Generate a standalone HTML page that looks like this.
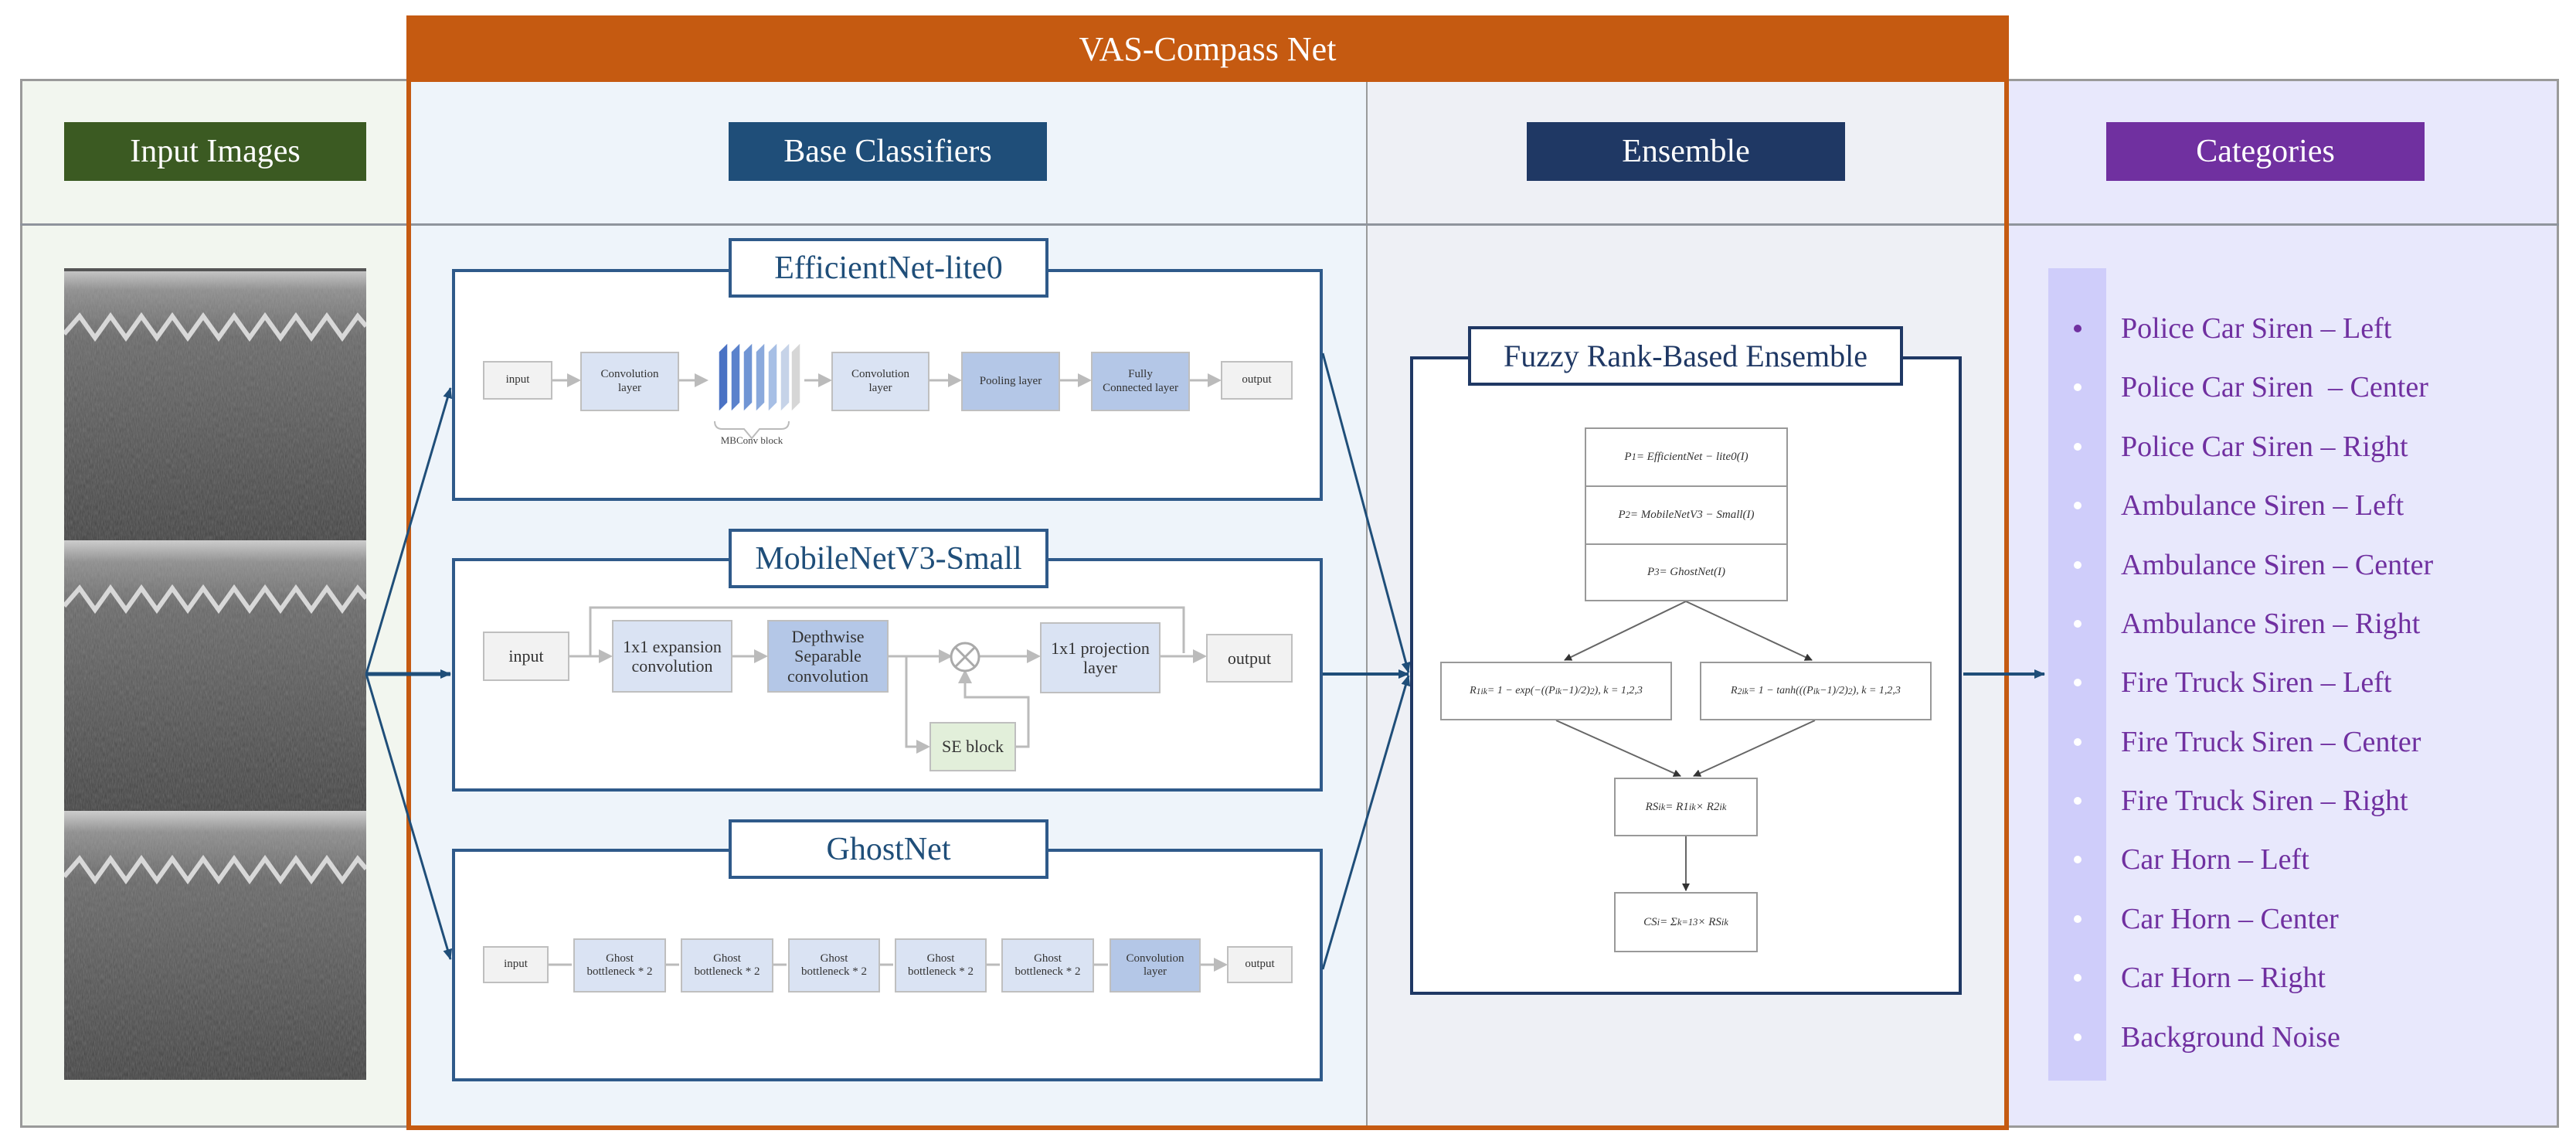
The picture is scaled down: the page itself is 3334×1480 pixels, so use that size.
<!DOCTYPE html>
<html><head><meta charset="utf-8"><style>
*{margin:0;padding:0;box-sizing:border-box}
body{width:3334px;height:1480px;background:#fff;position:relative;overflow:hidden;font-family:"Liberation Serif",serif}
.a{position:absolute}
.lbl{position:absolute;color:#fff;font-size:42px;display:flex;align-items:center;justify-content:center}
.tb{position:absolute;background:#fff;border:4px solid #2f5a8a;color:#1f4e79;font-size:42px;display:flex;align-items:center;justify-content:center}
.ob{position:absolute;border:4px solid #2f5a8a;background:#fff}
.n{position:absolute;border:2px solid #bfbfbf;display:flex;align-items:center;justify-content:center;text-align:center;color:#333;line-height:1.15}
.f{position:absolute;border:2px solid #999;background:#fff;display:flex;align-items:center;justify-content:center;font-style:italic;font-size:15px;color:#333}
.it{position:absolute;left:2745px;font-size:38px;color:#7030a0;white-space:nowrap;line-height:1}
.dot{position:absolute;left:2684px;width:10px;height:10px;border-radius:50%;background:#fff}
</style></head><body>
<div class="a" style="left:26px;top:102px;width:504px;height:1357px;background:#f2f6ef;border:3px solid #9a9a9a"></div>
<div class="a" style="left:2596px;top:102px;width:716px;height:1357px;background:#e8e8fc;border:3px solid #9a9a9a"></div>
<div class="a" style="left:528px;top:104px;width:1240px;height:1355px;background:#eef4fa"></div>
<div class="a" style="left:1768px;top:104px;width:828px;height:1355px;background:#eef0f5;border-left:2px solid #9a9a9a"></div>
<div class="a" style="left:26px;top:289px;width:3286px;height:3px;background:#8f949c"></div>
<div class="a" style="left:526px;top:20px;width:2074px;height:1442px;border:6px solid #c55a11"></div>
<div class="a" style="left:526px;top:20px;width:2074px;height:86px;background:#c55a11;color:#fff;font-size:44px;display:flex;align-items:center;justify-content:center">VAS-Compass Net</div>
<div class="lbl" style="left:83px;top:158px;width:391px;height:76px;background:#3b5a22">Input Images</div>
<div class="lbl" style="left:943px;top:158px;width:412px;height:76px;background:#1f4e79">Base Classifiers</div>
<div class="lbl" style="left:1976px;top:158px;width:412px;height:76px;background:#1f3864">Ensemble</div>
<div class="lbl" style="left:2726px;top:158px;width:412px;height:76px;background:#7030a0">Categories</div>
<svg class="a" style="left:83px;top:347px" width="391" height="1050">
<defs><linearGradient id="g" x1="0" y1="0" x2="0" y2="1"><stop offset="0" stop-color="#d0d0d0"/><stop offset="0.08" stop-color="#8a8a8a"/><stop offset="0.25" stop-color="#646464"/><stop offset="1" stop-color="#3e3e3e"/></linearGradient>
<filter id="nz"><feTurbulence type="fractalNoise" baseFrequency="0.9 0.15" numOctaves="2" seed="3"/><feColorMatrix values="0 0 0 0 0.5 0 0 0 0 0.5 0 0 0 0 0.5 0 0 0 0.35 0"/></filter></defs>
<g><rect x="0" y="0" width="391" height="352" fill="url(#g)"/><polyline fill="none" stroke="#dedede" stroke-width="6" points="0,85 20,62 40,90 60,62 80,90 100,62 120,90 140,62 160,90 180,62 200,90 220,62 240,90 260,62 280,90 300,62 320,90 340,62 360,90 380,62 391,75"/></g>
<g transform="translate(0,352)"><rect x="0" y="0" width="391" height="350" fill="url(#g)"/><polyline fill="none" stroke="#dedede" stroke-width="6" points="0,85 20,62 40,90 60,62 80,90 100,62 120,90 140,62 160,90 180,62 200,90 220,62 240,90 260,62 280,90 300,62 320,90 340,62 360,90 380,62 391,75"/></g>
<g transform="translate(0,702)"><rect x="0" y="0" width="391" height="348" fill="url(#g)"/><polyline fill="none" stroke="#dedede" stroke-width="6" points="0,85 20,62 40,90 60,62 80,90 100,62 120,90 140,62 160,90 180,62 200,90 220,62 240,90 260,62 280,90 300,62 320,90 340,62 360,90 380,62 391,75"/></g>
<rect x="0" y="0" width="391" height="1050" filter="url(#nz)"/>
<rect x="0" y="0" width="391" height="4" fill="#555"/>
</svg>
<div class="ob" style="left:585px;top:348px;width:1127px;height:300px"></div>
<div class="tb" style="left:943px;top:308px;width:414px;height:77px">EfficientNet-lite0</div>
<div class="ob" style="left:585px;top:722px;width:1127px;height:302px"></div>
<div class="tb" style="left:943px;top:684px;width:414px;height:77px">MobileNetV3-Small</div>
<div class="ob" style="left:585px;top:1098px;width:1127px;height:301px"></div>
<div class="tb" style="left:943px;top:1060px;width:414px;height:77px">GhostNet</div>
<div class="ob" style="left:1825px;top:461px;width:714px;height:826px;border-color:#1f3864"></div>
<div class="tb" style="left:1900px;top:422px;width:563px;height:77px;border-color:#1f3864;color:#1f3864;font-size:40px">Fuzzy Rank-Based Ensemble</div>
<svg class="a" style="left:0;top:0" width="3334" height="1480">
<defs>
<marker id="ab" markerWidth="14" markerHeight="12" refX="13" refY="6" orient="auto" markerUnits="userSpaceOnUse"><path d="M0,0 L14,6 L0,12 z" fill="#1f4e79"/></marker>
<marker id="ag" markerWidth="6" markerHeight="6" refX="5" refY="3" orient="auto"><path d="M0,0 L6,3 L0,6 z" fill="#bbb"/></marker>
<marker id="ak" markerWidth="10" markerHeight="10" refX="9" refY="5" orient="auto" markerUnits="userSpaceOnUse"><path d="M0,0 L10,5 L0,10 z" fill="#333"/></marker>
</defs>
<g stroke="#1f4e79" stroke-width="3" fill="none">
<line x1="474" y1="872" x2="583" y2="502" marker-end="url(#ab)"/>
<line x1="474" y1="872" x2="583" y2="872" stroke-width="5" marker-end="url(#ab)"/>
<line x1="474" y1="872" x2="583" y2="1241" marker-end="url(#ab)"/>
<line x1="1712" y1="457" x2="1823" y2="870" marker-end="url(#ab)"/>
<line x1="1712" y1="872" x2="1823" y2="872" stroke-width="4" marker-end="url(#ab)"/>
<line x1="1712" y1="1254" x2="1823" y2="874" marker-end="url(#ab)"/>
<line x1="2541" y1="872" x2="2646" y2="872" stroke-width="4" marker-end="url(#ab)"/>
</g>
<g stroke="#bbb" stroke-width="3" fill="none">
<line x1="715" y1="492" x2="749" y2="492" marker-end="url(#ag)"/>
<line x1="879" y1="492" x2="914" y2="492" marker-end="url(#ag)"/>
<line x1="1041" y1="492" x2="1074" y2="492" marker-end="url(#ag)"/>
<line x1="1203" y1="492" x2="1242" y2="492" marker-end="url(#ag)"/>
<line x1="1372" y1="492" x2="1410" y2="492" marker-end="url(#ag)"/>
<line x1="1540" y1="492" x2="1578" y2="492" marker-end="url(#ag)"/>
<path d="M925,545 q0,10 10,10 h28 l10,12 l10,-12 h28 q10,0 10,-10" stroke-width="2"/>
<line x1="737" y1="849" x2="790" y2="849" marker-end="url(#ag)"/>
<line x1="948" y1="849" x2="991" y2="849" marker-end="url(#ag)"/>
<line x1="1150" y1="849" x2="1230" y2="849" marker-end="url(#ag)"/>
<line x1="1268" y1="849" x2="1344" y2="849" marker-end="url(#ag)"/>
<line x1="1502" y1="849" x2="1559" y2="849" marker-end="url(#ag)"/>
<polyline points="764,849 764,786 1532,786 1532,845"/>
<polyline points="1173,849 1173,966 1201,966" marker-end="url(#ag)"/>
<polyline points="1315,966 1331,966 1331,902 1249,902 1249,869" marker-end="url(#ag)"/>
<line x1="710" y1="1248" x2="740" y2="1248"/>
<line x1="862" y1="1248" x2="879" y2="1248"/>
<line x1="1001" y1="1248" x2="1018" y2="1248"/>
<line x1="1139" y1="1248" x2="1156" y2="1248"/>
<line x1="1277" y1="1248" x2="1294" y2="1248"/>
<line x1="1416" y1="1248" x2="1434" y2="1248"/>
<line x1="1554" y1="1248" x2="1586" y2="1248" marker-end="url(#ag)"/>
</g>
<circle cx="1249" cy="850" r="18" fill="#fff" stroke="#aaa" stroke-width="3"/>
<path d="M1236,837 L1262,863 M1262,837 L1236,863" stroke="#aaa" stroke-width="3"/>
<g stroke="#666" stroke-width="2" fill="none">
<line x1="2182" y1="778" x2="2025" y2="854" marker-end="url(#ak)"/>
<line x1="2182" y1="778" x2="2345" y2="854" marker-end="url(#ak)"/>
<line x1="2014" y1="932" x2="2175" y2="1004" marker-end="url(#ak)"/>
<line x1="2349" y1="932" x2="2192" y2="1004" marker-end="url(#ak)"/>
<line x1="2182" y1="1082" x2="2182" y2="1152" marker-end="url(#ak)"/>
</g>
</svg>
<div class="n" style="left:625px;top:467px;width:90px;height:50px;background:#f2f2f2;font-size:15px">input</div>
<div class="n" style="left:751px;top:455px;width:128px;height:77px;background:#dae3f3;font-size:15px">Convolution<br>layer</div>
<svg class="a" style="left:916px;top:443px" width="125" height="92">
<g stroke="#fff" stroke-width="1.5">
<polygon points="14,12 26,0 26,78 14,90" fill="#4a72c4"/>
<polygon points="30,12 42,0 42,78 30,90" fill="#5b82cc"/>
<polygon points="46,12 58,0 58,78 46,90" fill="#7095d4"/>
<polygon points="62,12 74,0 74,78 62,90" fill="#8aa9dc"/>
<polygon points="78,12 90,0 90,78 78,90" fill="#a7bfe5"/>
<polygon points="94,12 106,0 106,78 94,90" fill="#c6d3e8"/>
<polygon points="108,12 120,0 120,78 108,90" fill="#d6d6d6"/>
</g></svg>
<div class="a" style="left:923px;top:562px;width:100px;text-align:center;font-size:13px;color:#444">MBConv block</div>
<div class="n" style="left:1076px;top:455px;width:127px;height:77px;background:#dae3f3;font-size:15px">Convolution<br>layer</div>
<div class="n" style="left:1244px;top:455px;width:128px;height:77px;background:#b4c7e7;font-size:15px">Pooling layer</div>
<div class="n" style="left:1412px;top:455px;width:128px;height:77px;background:#b4c7e7;font-size:15px">Fully<br>Connected layer</div>
<div class="n" style="left:1580px;top:467px;width:93px;height:50px;background:#f2f2f2;font-size:15px">output</div>
<div class="n" style="left:625px;top:817px;width:112px;height:64px;background:#f2f2f2;font-size:22px">input</div>
<div class="n" style="left:792px;top:802px;width:156px;height:94px;background:#dae3f3;font-size:22px">1x1 expansion<br>convolution</div>
<div class="n" style="left:993px;top:802px;width:157px;height:94px;background:#b4c7e7;font-size:22px">Depthwise<br>Separable<br>convolution</div>
<div class="n" style="left:1346px;top:805px;width:156px;height:92px;background:#dae3f3;font-size:22px">1x1 projection<br>layer</div>
<div class="n" style="left:1561px;top:820px;width:112px;height:63px;background:#f2f2f2;font-size:22px">output</div>
<div class="n" style="left:1203px;top:934px;width:112px;height:64px;background:#e2efda;font-size:22px">SE block</div>
<div class="n" style="left:625px;top:1224px;width:85px;height:48px;background:#f2f2f2;font-size:15px">input</div>
<div class="n" style="left:742px;top:1214px;width:120px;height:70px;background:#dae3f3;font-size:15px">Ghost<br>bottleneck * 2</div>
<div class="n" style="left:881px;top:1214px;width:120px;height:70px;background:#dae3f3;font-size:15px">Ghost<br>bottleneck * 2</div>
<div class="n" style="left:1020px;top:1214px;width:119px;height:70px;background:#dae3f3;font-size:15px">Ghost<br>bottleneck * 2</div>
<div class="n" style="left:1158px;top:1214px;width:119px;height:70px;background:#dae3f3;font-size:15px">Ghost<br>bottleneck * 2</div>
<div class="n" style="left:1296px;top:1214px;width:120px;height:70px;background:#dae3f3;font-size:15px">Ghost<br>bottleneck * 2</div>
<div class="n" style="left:1436px;top:1214px;width:118px;height:70px;background:#b4c7e7;font-size:15px">Convolution<br>layer</div>
<div class="n" style="left:1588px;top:1224px;width:85px;height:48px;background:#f2f2f2;font-size:15px">output</div>
<div class="f" style="left:2051px;top:553px;width:263px;height:77px">P<sub>1</sub> = EfficientNet − lite0(I)</div>
<div class="f" style="left:2051px;top:628px;width:263px;height:77px">P<sub>2</sub> = MobileNetV3 − Small(I)</div>
<div class="f" style="left:2051px;top:703px;width:263px;height:75px">P<sub>3</sub> = GhostNet(I)</div>
<div class="f" style="left:1864px;top:856px;width:300px;height:76px;font-size:14px">R<sub>1ik</sub> = 1 − exp(−((P<sub>ik</sub>−1)/2)<sup>2</sup>), k = 1,2,3</div>
<div class="f" style="left:2200px;top:856px;width:300px;height:76px;font-size:14px">R<sub>2ik</sub> = 1 − tanh(((P<sub>ik</sub>−1)/2)<sup>2</sup>), k = 1,2,3</div>
<div class="f" style="left:2089px;top:1006px;width:186px;height:76px">RS<sub>ik</sub> = R1<sub>ik</sub> × R2<sub>ik</sub></div>
<div class="f" style="left:2089px;top:1154px;width:186px;height:78px">CS<sub>i</sub> = Σ<sub>k=1</sub><sup>3</sup> × RS<sub>ik</sub></div>
<div class="a" style="left:2651px;top:347px;width:75px;height:1051px;background:#cfcdfa"></div>
<div class="dot" style="top:420px;background:#7030a0"></div><div class="it" style="top:406px">Police Car Siren – Left</div>
<div class="dot" style="top:496px"></div><div class="it" style="top:482px">Police Car Siren &nbsp;– Center</div>
<div class="dot" style="top:573px"></div><div class="it" style="top:559px">Police Car Siren – Right</div>
<div class="dot" style="top:649px"></div><div class="it" style="top:635px">Ambulance Siren – Left</div>
<div class="dot" style="top:726px"></div><div class="it" style="top:712px">Ambulance Siren – Center</div>
<div class="dot" style="top:802px"></div><div class="it" style="top:788px">Ambulance Siren – Right</div>
<div class="dot" style="top:878px"></div><div class="it" style="top:864px">Fire Truck Siren – Left</div>
<div class="dot" style="top:955px"></div><div class="it" style="top:941px">Fire Truck Siren – Center</div>
<div class="dot" style="top:1031px"></div><div class="it" style="top:1017px">Fire Truck Siren – Right</div>
<div class="dot" style="top:1107px"></div><div class="it" style="top:1093px">Car Horn – Left</div>
<div class="dot" style="top:1184px"></div><div class="it" style="top:1170px">Car Horn – Center</div>
<div class="dot" style="top:1260px"></div><div class="it" style="top:1246px">Car Horn – Right</div>
<div class="dot" style="top:1337px"></div><div class="it" style="top:1323px">Background Noise</div>
</body></html>
